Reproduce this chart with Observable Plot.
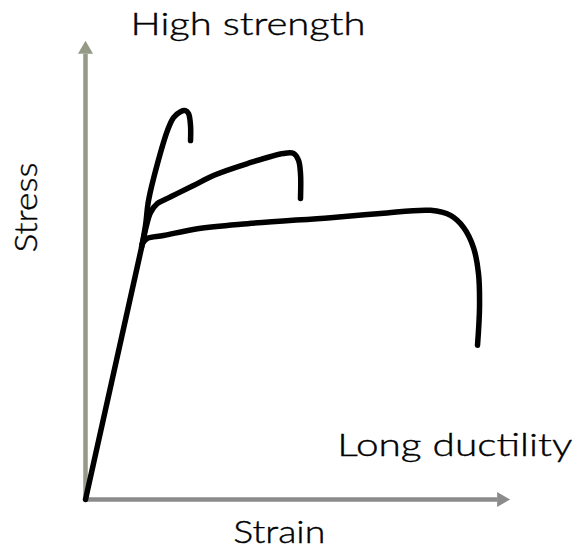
<!DOCTYPE html>
<html>
<head>
<meta charset="utf-8">
<script src="https://cdn.jsdelivr.net/npm/d3@7"></script>
<script src="https://cdn.jsdelivr.net/npm/@observablehq/plot@0.6"></script>
<style>
  html, body { margin: 0; padding: 0; background: #fff; }
  #chart { width: 579px; height: 553px; }
</style>
</head>
<body>
<div id="chart"></div>
<script>
// Strain / stress values (conceptual units, 0–100)
const elasticStrain = [0, 13.41];
const elasticStress = [0, 55.8];

const highStrengthStrain = [13.2, 14.12, 14.82, 16.94, 19.29, 20.71, 22.35, 23.53, 24.24, 24.71, 24.71];
const highStrengthStress = [55.0, 59.7, 65.1, 73.2, 80.4, 83.2, 84.5, 84.7, 84.1, 81.5, 78.2];

const mediumStrain = [13.6, 14.35, 15.29, 16.94, 19.29, 21.65, 25.41, 30.12, 38.12, 46.59, 48.94, 50.12, 50.59, 50.59];
const mediumStress = [56.6, 59.7, 62.5, 64.5, 65.6, 66.7, 68.4, 70.6, 73.2, 75.4, 75.4, 73.9, 71.0, 65.6];

const ductileStrain = [13.41, 14.59, 18.35, 26.35, 38.12, 57.65, 69.41, 81.18, 85.88, 88.94, 91.29, 92.47, 92.71, 92.24];
const ductileStress = [55.8, 56.9, 57.5, 59.0, 60.1, 61.4, 62.3, 63.0, 61.9, 59.3, 54.9, 49.2, 41.8, 33.6];

const axisMax = 100;
const axisHeadBase = 97;

// Labels
const labelTexts = ["High strength", "Long ductility", "Strain", "Stress"];
const labelX = [38.24, 86.9, 45.6, -11.3];
const labelY = [101.1, 9.37, -9.37, 63.6];
const labelRotate = [0, 0, 0, -90];

const toPoints = (xs, ys, name) => xs.map((x, i) => ({strain: x, stress: ys[i], series: name}));
const elastic = toPoints(elasticStrain, elasticStress, "elastic");
const curves = [
  ...toPoints(highStrengthStrain, highStrengthStress, "high"),
  ...toPoints(mediumStrain, mediumStress, "medium"),
  ...toPoints(ductileStrain, ductileStress, "ductile")
];
const labels = labelTexts.map((t, i) => ({text: t, x: labelX[i], y: labelY[i], rotate: labelRotate[i]}));

const textWidths = {"High strength": 235, "Long ductility": 235, "Strain": 92, "Stress": 90};

const lineStyle = {stroke: "#000", strokeWidth: 5.5, strokeLinecap: "round", strokeLinejoin: "round"};

const chart = Plot.plot({
  width: 579,
  height: 553,
  marginLeft: 85,
  marginRight: 69,
  marginTop: 40,
  marginBottom: 54,
  x: {domain: [0, axisMax], axis: null},
  y: {domain: [0, axisMax], axis: null},
  style: {fontFamily: "Lato, sans-serif", background: "#fff", overflow: "visible"},
  marks: [
    // axes
    Plot.ruleX([0], {y1: 0, y2: axisHeadBase, stroke: "#959a86", strokeWidth: 4.5}),
    Plot.ruleY([0], {x1: 0, x2: axisHeadBase, stroke: "#8b8b8b", strokeWidth: 4.5}),
    Plot.dot([{x: 0, y: axisMax}], {x: "x", y: "y", symbol: "triangle", r: 5.6, fill: "#959a86", stroke: "none", dy: 9}),
    Plot.dot([{x: axisMax, y: 0}], {x: "x", y: "y", symbol: "triangle", r: 5.6, fill: "#8b8b8b", stroke: "none", rotate: 90, dx: -9}),
    // curves
    Plot.line(elastic, {x: "strain", y: "stress", ...lineStyle}),
    Plot.line(curves, {x: "strain", y: "stress", z: "series", curve: "catmull-rom", ...lineStyle}),
    // labels
    Plot.text(labels, {
      x: "x", y: "y", text: "text", rotate: "rotate",
      fontSize: 32, fontWeight: 300, fill: "#000", stroke: "#000", strokeWidth: 0.4,
      textAnchor: "middle", lineAnchor: "bottom"
    })
  ]
});

d3.select(chart).selectAll("text").each(function() {
  const t = this.textContent;
  if (textWidths[t]) {
    this.setAttribute("textLength", textWidths[t]);
    this.setAttribute("lengthAdjust", "spacingAndGlyphs");
  }
});

document.getElementById("chart").appendChild(chart);
</script>
</body>
</html>
